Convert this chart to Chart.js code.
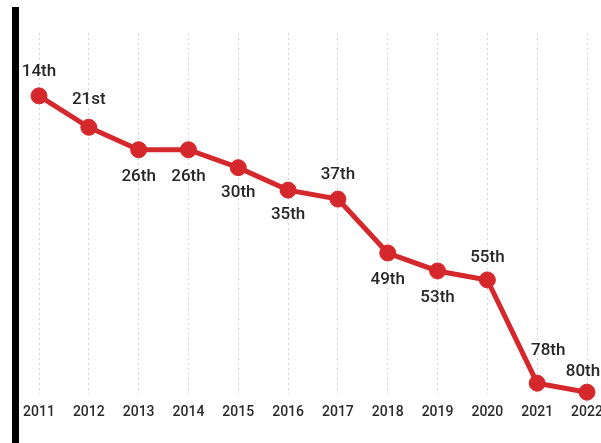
<!DOCTYPE html>
<html>
<head>
<meta charset="utf-8">
<script src="https://cdn.jsdelivr.net/npm/chart.js@4"></script>
<style>
  html, body { margin: 0; padding: 0; background: #fff; overflow: hidden; }
  #wrap { position: relative; width: 601px; height: 443px; overflow: hidden; background: #fff; }
  #bar { position: absolute; left: 12px; top: 7px; width: 7px; height: 436px; background: #000; z-index: 2; }
  #c { position: absolute; left: 0; top: 0; }
</style>
</head>
<body>
<div id="wrap">
  <canvas id="c" width="615" height="443"></canvas>
  <div id="bar"></div>
</div>
<script>
const years = ['2011','2012','2013','2014','2015','2016','2017','2018','2019','2020','2021','2022'];
const ranks = [14, 21, 26, 26, 30, 35, 37, 49, 53, 55, 78, 80];
const rankLabels = ['14th','21st','26th','26th','30th','35th','37th','49th','53th','55th','78th','80th'];

// label placement style (not data): 'a' = above, 'b' = below, with small nudges
const labelSide = ['a','a','b','b','b','b','a','b','b','a','a','a'];
const labelNudgeX = [0,0,0,0,0,0,0,0,0,0,11,-4];
const labelNudgeY = [0,-4,0,0,-2,-2,0,0,0,2,-8,4];

const RED = '#d5282d';

const pointLabels = {
  id: 'pointLabels',
  afterDatasetsDraw(chart) {
    const ctx = chart.ctx;
    const meta = chart.getDatasetMeta(0);
    ctx.save();
    ctx.font = '500 17px Roboto, "Liberation Sans", Arial, sans-serif';
    ctx.fillStyle = '#262626';
    ctx.textAlign = 'center';
    ctx.textBaseline = 'middle';
    meta.data.forEach((pt, i) => {
      const dy = labelSide[i] === 'a' ? -24 : 27;
      ctx.fillText(rankLabels[i], pt.x + labelNudgeX[i], pt.y + dy + labelNudgeY[i]);
    });
    ctx.restore();
  }
};

new Chart(document.getElementById('c'), {
  type: 'line',
  data: {
    labels: years,
    datasets: [{
      data: ranks,
      borderColor: RED,
      backgroundColor: RED,
      borderWidth: 5,
      pointRadius: 8,
      pointBorderWidth: 1,
      pointBorderColor: RED,
      pointBackgroundColor: RED,
      tension: 0,
      clip: false
    }]
  },
  options: {
    responsive: false,
    animation: false,
    events: [],
    layout: { padding: { left: 39, right: 28, top: 33, bottom: 12 } },
    plugins: { legend: { display: false }, tooltip: { enabled: false } },
    scales: {
      x: {
        offset: false,
        border: { display: false, dash: [2, 3] },
        grid: { color: '#d4d4d4', lineWidth: 1, drawTicks: false },
        ticks: {
          padding: 10,
          color: '#2a2a2a',
          font: { family: 'Roboto, "Liberation Sans", Arial, sans-serif', size: 14, weight: '500' },
          maxRotation: 0,
          autoSkip: false
        }
      },
      y: {
        display: false,
        reverse: true,
        min: 0,
        max: 80.45
      }
    }
  },
  plugins: [pointLabels]
});
</script>
</body>
</html>
